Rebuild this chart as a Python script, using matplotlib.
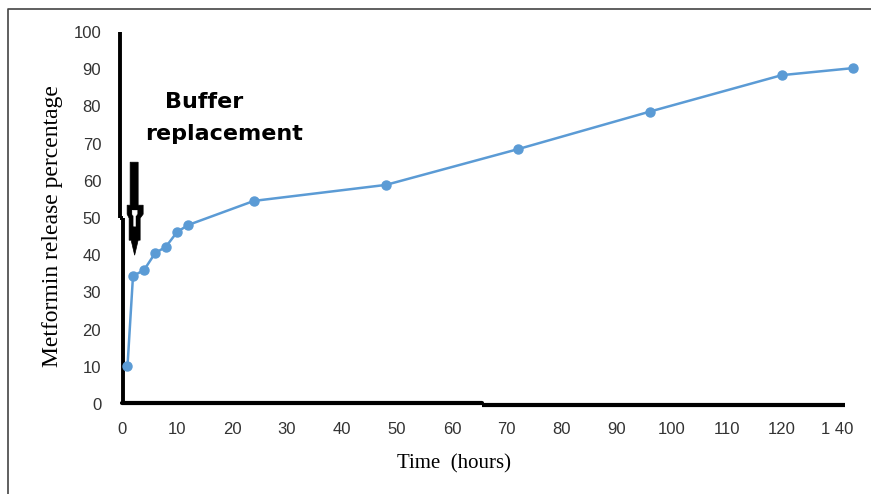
import matplotlib
matplotlib.use("Agg")
import matplotlib.pyplot as plt
from matplotlib.lines import Line2D
from matplotlib.patches import Polygon
from matplotlib.transforms import ScaledTranslation

# data
time_h = [1, 2, 4, 6, 8, 10, 12, 24, 48, 72, 96, 120, 133]
release = [10.2, 34.4, 36.0, 40.5, 42.3, 46.2, 48.1, 54.6, 58.9, 68.5, 78.6, 88.4, 90.3]
x_ticks = [0, 10, 20, 30, 40, 50, 60, 70, 80, 90, 100, 110, 120, 130]
x_tick_labels = ["0", "10", "20", "30", "40", "50", "60", "70", "80", "90",
                 "100", "110", "120", "1 40"]
y_ticks = list(range(0, 101, 10))

W, H = 871, 494
fig = plt.figure(figsize=(W / 100, H / 100), dpi=100)
ax = fig.add_axes([122 / W, 1 - 404 / H, (845 - 122) / W, (404 - 32) / H])
ax.set_xlim(0, 131.5)
ax.set_ylim(0, 100)

for s in ax.spines.values():
    s.set_visible(False)

# thick hand-made axis lines (with the small jogs of the original)
kw = dict(color="black", lw=2.8, clip_on=False, solid_capstyle="butt")
ax.plot([-0.36, -0.36], [50, 100], **kw)
ax.plot([-0.36, 0.27], [50, 50], **kw)
ax.plot([0.27, 0.27], [0, 50], **kw)
ax.plot([0, 65.5], [0.25, 0.25], color="black", lw=3.0, clip_on=False,
        solid_capstyle="round")
ax.plot([65.5, 131.5], [-0.3, -0.3], color="black", lw=3.0, clip_on=False,
        solid_capstyle="butt")

ax.plot(time_h, release, color="#5B9BD5", lw=1.8, marker="o", ms=6.5,
        clip_on=False, zorder=3)

ax.set_xticks(x_ticks)
ax.set_xticklabels(x_tick_labels)
ax.set_yticks(y_ticks)
ax.tick_params(axis="both", length=0, labelsize=12, labelcolor="#333333")
ax.tick_params(axis="x", pad=13)
ax.tick_params(axis="y", pad=15)
for lab in ax.get_xticklabels() + ax.get_yticklabels():
    lab.set_family("Liberation Sans")

ax.set_xlabel("Time  (hours)", family="Liberation Serif", fontsize=15)
ax.xaxis.set_label_coords(0.459, -0.135)
ax.set_ylabel("Metformin release percentage", family="Liberation Serif",
              fontsize=17)
ax.yaxis.set_label_coords(-0.082, 0.478)

# "Buffer replacement" note
ax.text(165 / W, 1 - 108 / H, "Buffer", transform=fig.transFigure,
        fontsize=16, fontweight="bold", family="DejaVu Sans", ha="left",
        va="baseline")
ax.text(145 / W, 1 - 140 / H, "replacement", transform=fig.transFigure,
        fontsize=16, fontweight="bold", family="DejaVu Sans", ha="left",
        va="baseline")

# down arrow, drawn in pixel offsets from its tip
tip = ScaledTranslation(2.3, 40, ax.transData)
tr = fig.dpi_scale_trans + tip
outer_px = [(-4.5, 93), (3.5, 93), (3.5, 50), (8.5, 50), (8.5, 41), (5.5, 37),
            (5.5, 15), (3.5, 15), (0, 0), (-3.5, 15), (-5.5, 15), (-5.5, 37),
            (-7.5, 41), (-7.5, 50), (-4.5, 50)]
inner_px = [(-2.5, 45), (2.5, 45), (2.5, 41), (1, 39), (1, 29), (-1, 29),
            (-1, 39), (-2.5, 41)]
ax.add_patch(Polygon([(x / 100, y / 100) for x, y in outer_px], closed=True,
                     transform=tr, facecolor="black", edgecolor="black",
                     lw=0.5, clip_on=False, zorder=4))
ax.add_patch(Polygon([(x / 100, y / 100) for x, y in inner_px], closed=True,
                     transform=tr, facecolor="white", edgecolor="white",
                     lw=0.3, clip_on=False, zorder=5))

# outer frame of the original figure
fig.add_artist(Line2D([8 / W, 8 / W, 1.0], [0.0, 1 - 9 / H, 1 - 9 / H],
                      transform=fig.transFigure, color="#444444", lw=1.2))

fig.savefig("out.png", dpi=100)
